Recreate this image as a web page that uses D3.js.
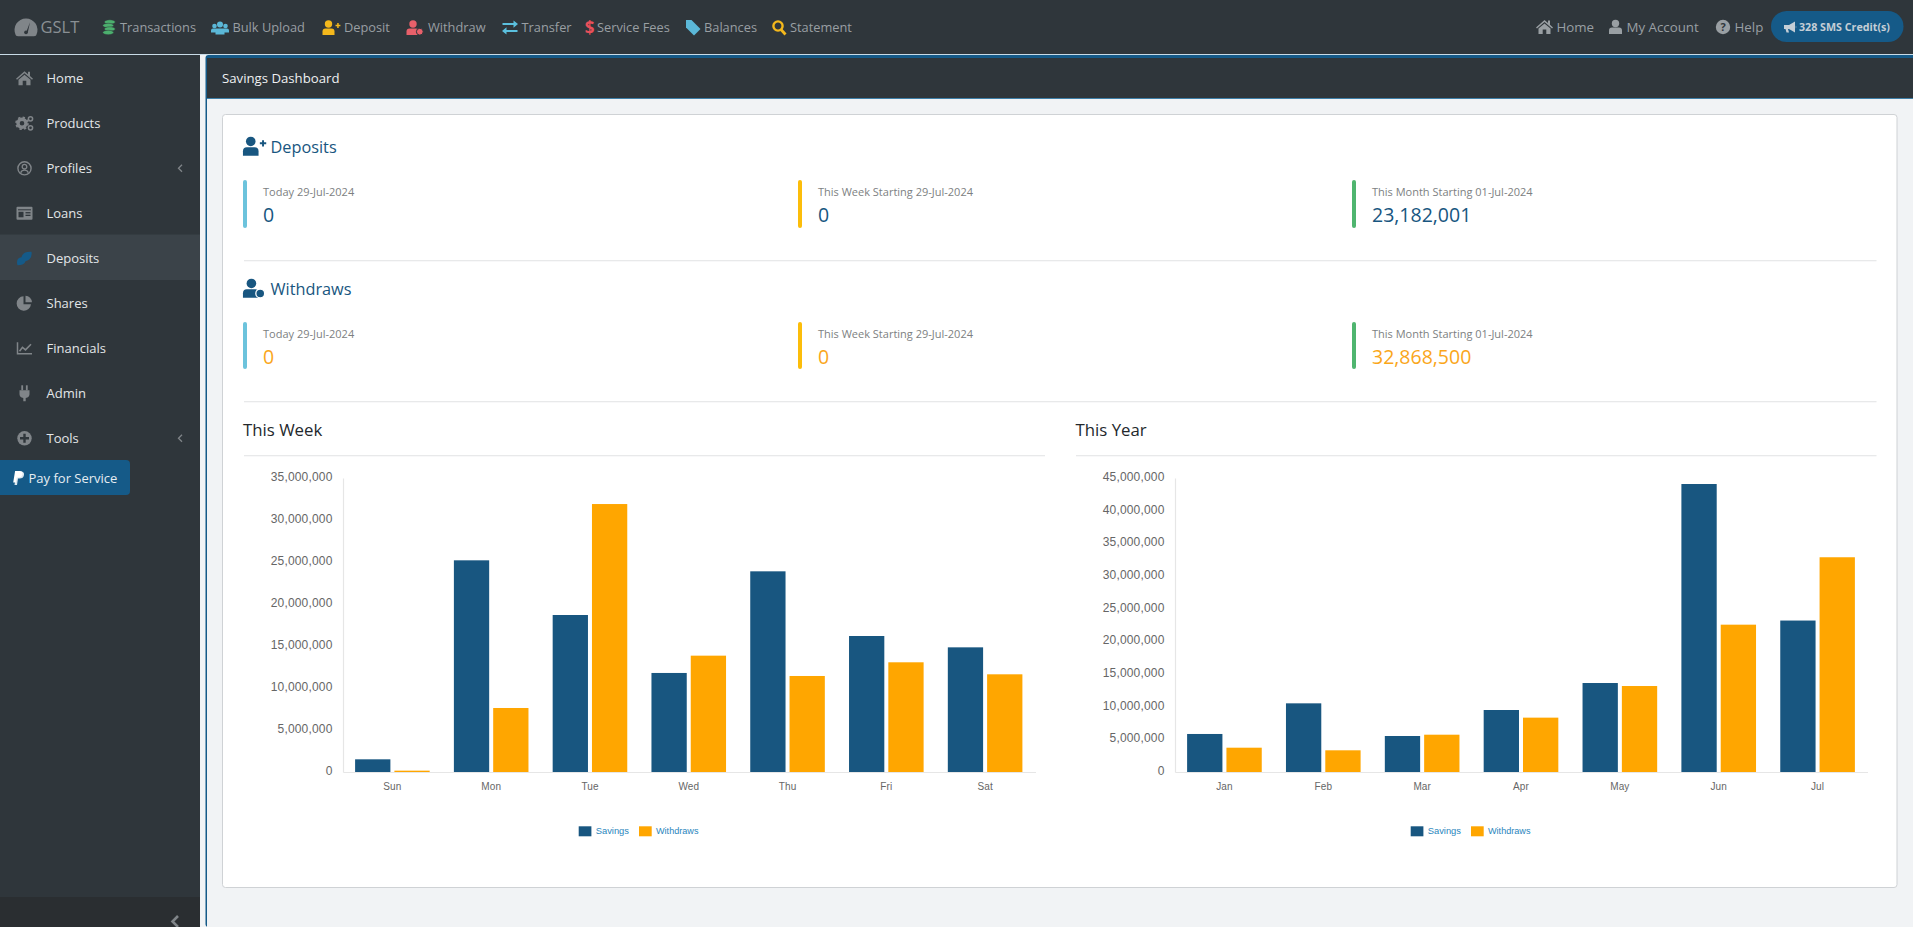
<!DOCTYPE html>
<html>
<head>
<meta charset="utf-8">
<title>Savings Dashboard</title>
<script src="https://cdn.jsdelivr.net/npm/d3@7"></script>
<style>
  html, body { margin: 0; padding: 0; background: #f1f3f5; overflow: hidden; }
  text { font-family: "Open Sans", sans-serif; }
  .chart text { font-family: "Liberation Sans", Arial, sans-serif; }
</style>
</head>
<body>
<div id="scene"></div>
<script>
'use strict';

// chart data
var days = ['Sun', 'Mon', 'Tue', 'Wed', 'Thu', 'Fri', 'Sat'];
var months = ['Jan', 'Feb', 'Mar', 'Apr', 'May', 'Jun', 'Jul'];
var seriesNames = ['Savings', 'Withdraws'];
var weekSavings = [1510000, 25200000, 18690000, 11790000, 23890000, 16190000, 14840000];
var weekWithdraws = [160000, 7620000, 31900000, 13850000, 11430000, 13060000, 11630000];
var yearSavings = [5820000, 10510000, 5510000, 9490000, 13620000, 44080000, 23182001];
var yearWithdraws = [3720000, 3320000, 5710000, 8320000, 13160000, 22550000, 32868500];
var weekTicks = [0, 5000000, 10000000, 15000000, 20000000, 25000000, 30000000, 35000000];
var yearTicks = [0, 5000000, 10000000, 15000000, 20000000, 25000000, 30000000, 35000000, 40000000, 45000000];

// page texts
var topItems = ['Transactions', 'Bulk Upload', 'Deposit', 'Withdraw', 'Transfer', 'Service Fees', 'Balances', 'Statement'];
var rightItems = ['Home', 'My Account', 'Help'];
var sideItems = ['Home', 'Products', 'Profiles', 'Loans', 'Deposits', 'Shares', 'Financials', 'Admin', 'Tools'];
var statLabels = ['Today 29-Jul-2024', 'This Week Starting 29-Jul-2024', 'This Month Starting 01-Jul-2024'];
var depositValues = ['0', '0', '23,182,001'];
var withdrawValues = ['0', '0', '32,868,500'];

// layout
var topIconX = [109, 220, 331, 415, 510, 589.5, 693, 779];
var topTextX = [120, 232.5, 344, 428, 521.5, 597, 704, 790];
var topIconColor = ['#4caf6e', '#5bb8d8', '#f4b81c', '#e8606a', '#5bc0de', '#e8505a', '#5bb8d8', '#f4b81c'];
var topIconName = ['coins', 'users', 'userPlus', 'userMinus', 'swap', 'dollar', 'tag', 'search'];
var rightIconX = [1544.5, 1615.5, 1723];
var rightTextX = [1556.5, 1626.5, 1734.5];
var rightIconName = ['home', 'user', 'help'];
var sideIconName = ['home', 'gears', 'profile', 'card', 'coinsSide', 'pie', 'line', 'plug', 'plusCircle'];
var statBarX = [243, 798, 1352];
var statTextX = [263, 818, 1372];
var statBarColor = ['#6cc3dc', '#fcbd0a', '#4fb56f'];

var navy = '#185680', orange = '#ffa600', panel = '#2f363b', iconGrey = '#808589';

var svg = d3.select('#scene').append('svg').attr('width', 1920).attr('height', 927).style('display', 'block');

function addRect(parent, x, y, w, h, fill, r) {
  return parent.append('rect').attr('x', x).attr('y', y).attr('width', w).attr('height', h)
    .attr('fill', fill).attr('rx', r || 0);
}

function addText(parent, x, y, str, size, fill, weight) {
  return parent.append('text').attr('x', x).attr('y', y).attr('dy', '0.35em')
    .attr('font-size', size).attr('fill', fill).attr('font-weight', weight || 400).text(str);
}

// small hand drawn glyphs, centred on 0,0 in a box of about 16px
var icons = {
  home: function(g, c) { g.append('path').attr('fill', c).attr('d', 'M-8.5 0.5L0 -7L3.5 -4V-6.5H5.5V-2.3L8.5 0.5L7.5 1.5L0 -5L-7.5 1.5ZM-6 1.5L0 -3.6L6 1.5V7H1.8V2.5H-1.8V7H-6Z'); },
  user: function(g, c) {
    g.append('circle').attr('cy', -3.5).attr('r', 3.7).attr('fill', c);
    g.append('path').attr('fill', c).attr('d', 'M-6.5 7V3.5Q-6.5 0.5 -3.5 0.5H3.5Q6.5 0.5 6.5 3.5V7Z');
  },
  userPlus: function(g, c) {
    g.append('circle').attr('cx', -2.5).attr('cy', -3.5).attr('r', 3.7).attr('fill', c);
    g.append('path').attr('fill', c).attr('d', 'M-8.5 7.5V4Q-8.5 1 -5.5 1H0.5Q3.5 1 3.5 4V7.5Z');
    g.append('path').attr('fill', c).attr('d', 'M4.5 -2.8H6.2V-4.5H7.7V-2.8H9.4V-1.3H7.7V0.4H6.2V-1.3H4.5Z');
  },
  userMinus: function(g, c, bg) {
    g.append('circle').attr('cx', -2).attr('cy', -3.5).attr('r', 3.7).attr('fill', c);
    g.append('path').attr('fill', c).attr('d', 'M-8.5 7.5V4Q-8.5 1 -5.5 1H1Q3.5 1 3.5 4V7.5Z');
    g.append('circle').attr('cx', 4.8).attr('cy', 4.2).attr('r', 3.4).attr('fill', c).attr('stroke', bg).attr('stroke-width', 1);
  },
  users: function(g, c) {
    [[-5.5, -1.5, 2.3], [5.5, -1.5, 2.3], [0, -3, 3]].forEach(function(p) {
      g.append('circle').attr('cx', p[0]).attr('cy', p[1]).attr('r', p[2]).attr('fill', c);
    });
    g.append('path').attr('fill', c).attr('d', 'M-9 5V3Q-9 1 -7 1H-3.5Q-1 1 0 1Q1 1 3.5 1H7Q9 1 9 3V5H4.5V7H-4.5V5Z');
  },
  coins: function(g, c) {
    [-5.5, -2, 1.5, 5].forEach(function(y, i) {
      g.append('ellipse').attr('cx', i % 2 ? -0.8 : 0.8).attr('cy', y).attr('rx', 5.5).attr('ry', 2.2)
        .attr('fill', c).attr('stroke', '#2f363b').attr('stroke-width', 0.5);
    });
  },
  coinsSide: function(g, c) {
    g.append('path').attr('fill', c).attr('d', 'M-7 7Q-9 0 -3 -1Q-2 -7 7 -6.5Q8 1 1 3Q0 7 -7 7Z');
  },
  swap: function(g, c) {
    g.append('path').attr('fill', c).attr('d', 'M-7.5 -4.4H3.5V-7L8 -3.4L3.5 0.2V-2.4H-7.5ZM7.5 2.4V4.4H-3.5V7L-8 3.4L-3.5 -0.2V2.4Z');
  },
  dollar: function(g, c) {
    g.append('text').attr('text-anchor', 'middle').attr('dy', '0.36em').attr('font-size', 17)
      .attr('font-weight', 700).attr('fill', c).text('$');
  },
  tag: function(g, c) { g.append('path').attr('fill', c).attr('d', 'M-7 -7.5H-1.5L7.5 1.5L1 8L-7 0Z'); },
  search: function(g, c) {
    g.append('circle').attr('cx', -1).attr('cy', -1.5).attr('r', 4.6).attr('fill', 'none').attr('stroke', c).attr('stroke-width', 2.4);
    g.append('line').attr('x1', 2).attr('y1', 2).attr('x2', 6.5).attr('y2', 7).attr('stroke', c).attr('stroke-width', 2.8);
  },
  help: function(g, c) {
    g.append('circle').attr('r', 7.2).attr('fill', c);
    g.append('text').attr('text-anchor', 'middle').attr('dy', '0.36em').attr('font-size', 11)
      .attr('font-weight', 700).attr('fill', panel).text('?');
  },
  gears: function(g, c) {
    g.append('circle').attr('cx', -2.5).attr('r', 4).attr('fill', 'none').attr('stroke', c).attr('stroke-width', 3.4);
    g.append('circle').attr('cx', -2.5).attr('r', 6).attr('fill', 'none').attr('stroke', c).attr('stroke-width', 1.6).attr('stroke-dasharray', '2.4 2.3');
    [[6, -4.5], [6, 4.5]].forEach(function(p) {
      g.append('circle').attr('cx', p[0]).attr('cy', p[1]).attr('r', 2.1).attr('fill', 'none').attr('stroke', c).attr('stroke-width', 1.5);
    });
  },
  profile: function(g, c) {
    g.append('circle').attr('r', 6.6).attr('fill', 'none').attr('stroke', c).attr('stroke-width', 1.4);
    g.append('circle').attr('cy', -1.6).attr('r', 2.3).attr('fill', 'none').attr('stroke', c).attr('stroke-width', 1.3);
    g.append('path').attr('fill', 'none').attr('stroke', c).attr('stroke-width', 1.3).attr('d', 'M-3.8 4.4Q-3 1.8 0 1.8Q3 1.8 3.8 4.4');
  },
  card: function(g, c) {
    addRect(g, -8, -6.5, 16, 13, c, 1);
    addRect(g, -6.5, -4, 13, 1, panel);
    addRect(g, -6, -1.5, 5, 5.5, panel);
    addRect(g, 1, -1.2, 5, 1.3, panel);
    addRect(g, 1, 1.4, 5, 1.3, panel);
  },
  pie: function(g, c) {
    g.append('path').attr('fill', c).attr('d', 'M-1 -7A7.2 7.2 0 1 0 6.5 1H-1Z');
    g.append('path').attr('fill', c).attr('d', 'M1 -7.5A6.8 6.8 0 0 1 7.5 -1H1Z');
  },
  line: function(g, c) {
    g.append('path').attr('fill', 'none').attr('stroke', c).attr('stroke-width', 1.5).attr('d', 'M-7 -6V5.5H7.5');
    g.append('path').attr('fill', 'none').attr('stroke', c).attr('stroke-width', 1.6).attr('d', 'M-5 3L-2 -1L1 1.5L6.5 -4');
  },
  plug: function(g, c) {
    g.append('path').attr('fill', c).attr('d', 'M-5 -3H5V1Q5 4 1.2 4.6V8H-1.2V4.6Q-5 4 -5 1Z');
    addRect(g, -3.2, -8, 1.8, 5, c);
    addRect(g, 1.4, -8, 1.8, 5, c);
  },
  plusCircle: function(g, c) {
    g.append('circle').attr('r', 7.2).attr('fill', c);
    g.append('path').attr('fill', panel).attr('d', 'M-4.5 -1.2H-1.2V-4.5H1.2V-1.2H4.5V1.2H1.2V4.5H-1.2V1.2H-4.5Z');
  },
  gauge: function(g, c) {
    g.append('path').attr('fill', c).attr('d', 'M-9 6.5A10 10 0 1 1 9 6.5Q9 7.5 7 7.5H-7Q-9 7.5 -9 6.5Z');
    g.append('path').attr('fill', panel).attr('d', 'M0.2 4L3.5 -4.5L1.5 4.5Z');
    g.append('circle').attr('cy', 4.2).attr('r', 1.6).attr('fill', panel);
  },
  bullhorn: function(g, c) {
    g.append('path').attr('fill', c).attr('d', 'M-6 -2H-1L5 -5.5V5.5L-1 2H-2L-1 5.5H-3.5L-4.5 2H-6ZM5.8 -1.5Q7 0 5.8 1.5Z');
  },
  paypal: function(g) {
    g.append('path').attr('fill', '#dbe7ef').attr('d', 'M-4 7L-1.8 -6.5H2.5Q6 -6.5 5.5 -3Q5 0.5 1 0.5H-0.5L-1.5 7Z');
    g.append('path').attr('fill', '#ffffff').attr('d', 'M-5.3 4.5L-3.4 -7H1.2Q4.5 -7 4 -3.6Q3.4 -0.6 0 -0.6H-1.7L-2.5 4.5Z');
  }
};

function addIcon(parent, name, x, y, color, scale, bg) {
  var g = parent.append('g').attr('transform', 'translate(' + x + ',' + y + ') scale(' + (scale || 1) + ')');
  icons[name](g, color, bg || panel);
  return g;
}

/** Top navigation strip. */
function drawTopBar() {
  addRect(svg, 0, 0, 1920, 54, panel);
  addRect(svg, 0, 54, 1920, 1, '#c9dbe6');
  addIcon(svg, 'gauge', 26, 27.5, iconGrey, 1.15);
  addText(svg, 40.5, 27.5, 'GSLT', 16.5, '#8a9094');

  topItems.forEach(function(item, i) {
    addIcon(svg, topIconName[i], topIconX[i], 27.5, topIconColor[i]);
    addText(svg, topTextX[i], 27.5, item, 12.8, '#999fa3');
  });

  rightItems.forEach(function(item, i) {
    addIcon(svg, rightIconName[i], rightIconX[i], 27, '#999fa3');
    addText(svg, rightTextX[i], 27.5, item, 13.3, '#999fa3');
  });

  addRect(svg, 1771, 11, 132.5, 31, '#155a88', 15.5);
  addIcon(svg, 'bullhorn', 1790, 27, '#c4ced6');
  addText(svg, 1799, 27, '328 SMS Credit(s)', 10.7, '#c4ced6', 700);
}

/** Left side menu with the highlighted row and the pay button. */
function drawSideBar() {
  addRect(svg, 0, 55, 200, 872, panel);
  addRect(svg, 0, 234.5, 200, 45.5, '#3b4349');
  addRect(svg, 0, 897, 200, 30, '#2a2e31');

  var rowY = d3.scaleBand().domain(sideItems).range([55.8, 460.8]);
  sideItems.forEach(function(item) {
    var y = rowY(item) + rowY.bandwidth() / 2;
    addIcon(svg, sideIconName[sideItems.indexOf(item)], 24.5, y, item === 'Deposits' ? '#155a88' : iconGrey);
    addText(svg, 46.5, y, item, 13, '#e3e6e8');
    if (item === 'Profiles' || item === 'Tools') {
      svg.append('path').attr('fill', 'none').attr('stroke', iconGrey).attr('stroke-width', 1.3)
        .attr('d', 'M182 ' + (y - 3.5) + 'L178.5 ' + y + 'L182 ' + (y + 3.5));
    }
  });

  svg.append('path').attr('fill', '#155a88').attr('d', 'M0 460H126Q130 460 130 464V491Q130 495 126 495H0Z');
  addIcon(svg, 'paypal', 18.5, 478, '#fff');
  addText(svg, 28.5, 478, 'Pay for Service', 13, '#e6edf2');

  svg.append('path').attr('fill', 'none').attr('stroke', iconGrey).attr('stroke-width', 2.6)
    .attr('d', 'M178 916L172.5 921.5L178 927');
}

/** Dashboard frame, card and the two stat rows. */
function drawDashboard() {
  addRect(svg, 205.5, 55, 1715, 872, '#155a88', 3);
  addRect(svg, 207, 58, 1713, 40, panel);
  addRect(svg, 207, 98, 1713, 1, '#3d7fa8');
  addRect(svg, 207, 99, 1713, 828, '#f1f3f5');
  addText(svg, 222, 78.5, 'Savings Dashboard', 13.2, '#eef0f1');

  addRect(svg, 222.5, 114.5, 1674.5, 773, '#ffffff', 3).attr('stroke', '#cfd2d5').attr('stroke-width', 1);

  drawStatRow('userPlus', 'Deposits', 147, 180, 228, depositValues, navy);
  drawStatRow('userMinus', 'Withdraws', 289, 322, 369, withdrawValues, '#faa61a');
  addRect(svg, 244, 260, 1632.5, 1.3, '#e8e9ea');
  addRect(svg, 244, 401, 1632.5, 1.3, '#e8e9ea');

  addText(svg, 243, 430, 'This Week', 16.8, '#23282c');
  addText(svg, 1075.5, 430, 'This Year', 16.8, '#23282c');
  addRect(svg, 244, 455, 801, 1.3, '#e8e9ea');
  addRect(svg, 1076, 455, 800.5, 1.3, '#e8e9ea');

  // narrow strip the reference leaves at its right edge
  addRect(svg, 1913, 0, 7, 927, '#ffffff');
}

function drawStatRow(iconName, title, titleY, top, bottom, values, valueColor) {
  addIcon(svg, iconName, 254, titleY - 1, navy, 1.3, '#ffffff');
  addText(svg, 270.5, titleY, title, 16.3, navy);
  statLabels.forEach(function(label, i) {
    addRect(svg, statBarX[i], top, 4, bottom - top, statBarColor[i], 2);
    addText(svg, statTextX[i], top + 12, label, 11, '#7d7f82');
    addText(svg, statTextX[i], top + 35, values[i], 19.5, valueColor);
  });
}

/**
 * Grouped bar chart with its axes and legend.
 */
function drawBarChart(left, right, axisEnd, categories, savings, withdraws, ticks, legendX) {
  var top = 478, bottom = 772;
  var chart = svg.append('g').attr('class', 'chart');

  var x0 = d3.scaleBand().domain(categories).range([left, right]).paddingInner(0.245).paddingOuter(0.1225);
  var x1 = d3.scaleBand().domain(seriesNames).range([0, x0.bandwidth()]).paddingInner(0.102);
  var y = d3.scaleLinear().domain([0, d3.max(ticks)]).range([bottom, top]);
  var color = d3.scaleOrdinal().domain(seriesNames).range([navy, orange]);

  var yAxis = chart.append('g').attr('transform', 'translate(' + left + ',0)')
    .call(d3.axisLeft(y).tickValues(ticks).tickSize(0).tickPadding(10.5).tickFormat(d3.format(',')));
  var xAxis = chart.append('g').attr('transform', 'translate(0,' + bottom + ')')
    .call(d3.axisBottom(x0).tickSize(0).tickPadding(10.8));

  yAxis.selectAll('text').attr('font-size', 12).attr('fill', '#666').attr('dy', '0.22em').attr('letter-spacing', 0.17);
  xAxis.selectAll('text').attr('font-size', 10).attr('fill', '#666').attr('letter-spacing', 0.1);
  chart.selectAll('.domain').attr('stroke', '#e6e6e6').attr('stroke-width', 1.2);
  chart.append('line').attr('x1', right).attr('x2', axisEnd).attr('y1', bottom + 0.5).attr('y2', bottom + 0.5)
    .attr('stroke', '#e6e6e6').attr('stroke-width', 1.2);

  [savings, withdraws].forEach(function(values, s) {
    chart.append('g').selectAll('rect').data(values).enter().append('rect')
      .attr('x', function(d, i) { return x0(categories[i]) + x1(seriesNames[s]); })
      .attr('y', function(d) { return y(d); })
      .attr('width', x1.bandwidth())
      .attr('height', function(d) { return bottom - y(d); })
      .attr('fill', color(seriesNames[s]));
  });

  // legend: swatch then label, withdraws offset from savings
  var legendStep = d3.scaleOrdinal().domain(seriesNames).range([0, 60.3]);
  var legendLabelWidth = d3.scaleOrdinal().domain(seriesNames).range([33.3, 42.5]);
  seriesNames.forEach(function(name) {
    var lx = legendX + legendStep(name);
    addRect(chart, lx, 826.3, 12.7, 10, color(name));
    addText(chart, lx + 17, 831, name, 9.5, '#2a86bd')
      .attr('textLength', legendLabelWidth(name)).attr('lengthAdjust', 'spacingAndGlyphs');
  });
}

drawTopBar();
drawSideBar();
drawDashboard();
drawBarChart(343, 1034.5, 1036, days, weekSavings, weekWithdraws, weekTicks, 578.7);
drawBarChart(1175, 1867, 1868, months, yearSavings, yearWithdraws, yearTicks, 1410.7);
</script>
</body>
</html>
